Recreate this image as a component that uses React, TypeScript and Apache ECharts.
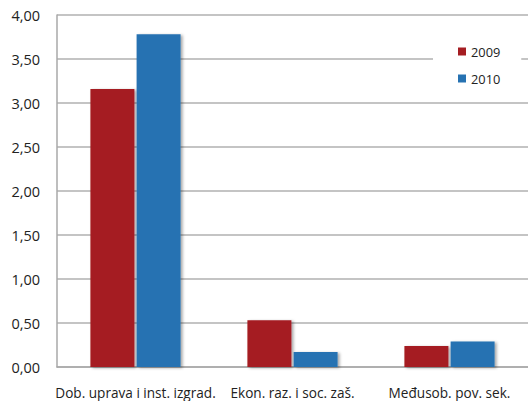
import React, { useEffect, useRef } from "react";
import * as echarts from "echarts";

const categories = ["Dob. uprava i inst. izgrad.", "Ekon. raz. i soc. zaš.", "Međusob. pov. sek."];
const seriesNames = ["2009", "2010"];
const values2009 = [3.16, 0.53, 0.24];
const values2010 = [3.78, 0.17, 0.29];
const colors = ["#A51D22", "#2672B2"];

export default function App() {
  const ref = useRef<HTMLDivElement>(null);
  useEffect(() => {
    const chart = echarts.init(ref.current!, null, { renderer: "svg" });
    const font = "'Open Sans', 'Noto Sans', sans-serif";
    const barStyle = (c: string) => ({
      color: c,
      shadowColor: "rgba(0,0,0,0.35)",
      shadowBlur: 3,
      shadowOffsetX: 2,
      shadowOffsetY: 1,
    });
    chart.setOption({
      animation: false,
      backgroundColor: "#ffffff",
      textStyle: { fontFamily: font },
      grid: { left: 57, top: 15, width: 474, bottom: 34, containLabel: false },
      legend: {
        orient: "vertical",
        left: 433,
        top: 37,
        itemWidth: 8,
        itemHeight: 8,
        itemGap: 14,
        padding: [8, 21, 8, 25],
        backgroundColor: "#ffffff",
        icon: "rect",
        textStyle: { fontSize: 12.8, color: "#222", fontFamily: font },
        data: seriesNames,
      },
      xAxis: {
        type: "category",
        data: categories,
        axisLine: { lineStyle: { color: "#a8a8a8", width: 1.5 } },
        axisTick: { show: false },
        axisLabel: { color: "#222", fontSize: 13.6, margin: 18, interval: 0, fontFamily: font },
      },
      yAxis: {
        type: "value",
        min: 0,
        max: 4,
        interval: 0.5,
        axisLine: { show: true, lineStyle: { color: "#a8a8a8", width: 1.5 } },
        axisTick: { show: false },
        splitLine: { lineStyle: { color: "#b0b0b0", width: 1.5 } },
        axisLabel: {
          color: "#222",
          fontSize: 14.5,
          margin: 17,
          fontFamily: font,
          formatter: (v: number) => v.toFixed(2).replace(".", ","),
        },
      },
      series: [
        {
          name: seriesNames[0],
          type: "bar",
          data: values2009,
          barWidth: 44,
          barGap: "5%",
          itemStyle: barStyle(colors[0]),
        },
        {
          name: seriesNames[1],
          type: "bar",
          data: values2010,
          barWidth: 44,
          barGap: "5%",
          itemStyle: barStyle(colors[1]),
        },
      ],
    });
    return () => chart.dispose();
  }, []);
  return <div ref={ref} style={{ width: 528, height: 401, position: "absolute", left: 0, top: 0 }} />;
}
